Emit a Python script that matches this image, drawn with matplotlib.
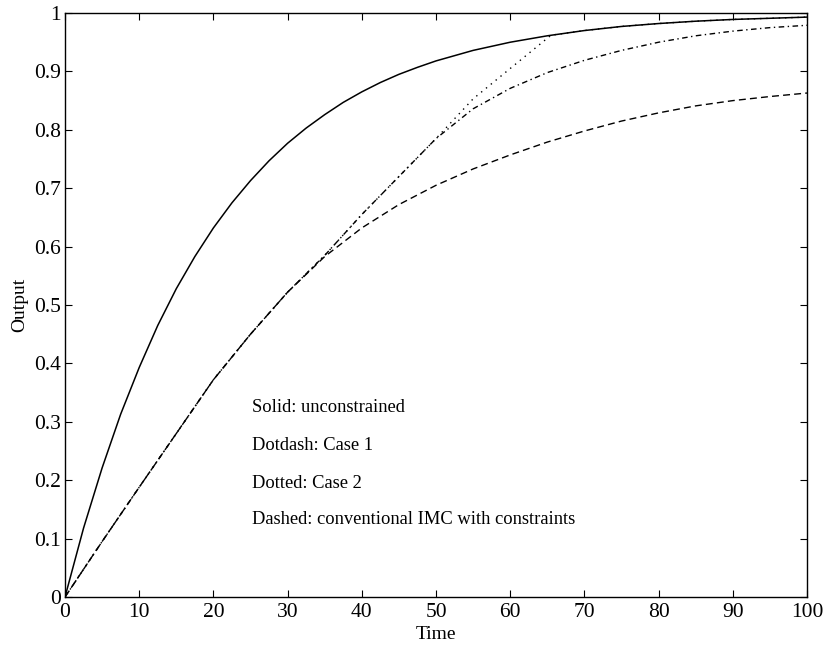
import matplotlib
matplotlib.use("Agg")
import matplotlib.pyplot as plt

plt.rcParams['font.family'] = ['Liberation Serif', 'DejaVu Serif']

# Time grid (every 5 units)
time = [0, 5, 10, 15, 20, 25, 30, 35, 40, 45, 50, 55, 60, 65, 70, 75, 80, 85, 90, 95, 100]

# Unconstrained response, sampled finer where it bends most
time_solid = [0, 2.5, 5, 7.5, 10, 12.5, 15, 17.5, 20, 22.5, 25, 27.5, 30, 32.5, 35,
              37.5, 40, 42.5, 45, 47.5, 50, 55, 60, 65, 70, 75, 80, 85, 90, 95, 100]
solid = [0, 0.118, 0.221, 0.313, 0.393, 0.465, 0.528, 0.583, 0.632, 0.675, 0.713,
         0.747, 0.777, 0.803, 0.826, 0.847, 0.865, 0.881, 0.895, 0.907, 0.918,
         0.936, 0.950, 0.961, 0.970, 0.977, 0.982, 0.986, 0.989, 0.991, 0.993]

# Conventional IMC with constraints
dashed = [0, 0.095, 0.188, 0.280, 0.372, 0.450, 0.522, 0.583, 0.632, 0.672, 0.705,
          0.733, 0.757, 0.779, 0.798, 0.815, 0.829, 0.841, 0.850, 0.857, 0.863]

# Case 1
dotdash = [0, 0.095, 0.188, 0.280, 0.372, 0.450, 0.522, 0.585, 0.655, 0.720, 0.785,
           0.836, 0.871, 0.898, 0.919, 0.936, 0.950, 0.961, 0.969, 0.975, 0.979]

# Case 2
time_case2 = [0, 5, 10, 15, 20, 25, 30, 35, 40, 45, 50, 55, 60, 65.5, 70, 75, 80, 85, 90, 95, 100]
dotted = [0, 0.095, 0.188, 0.280, 0.372, 0.450, 0.522, 0.585, 0.655, 0.720, 0.785,
          0.853, 0.905, 0.962, 0.970, 0.977, 0.982, 0.986, 0.989, 0.991, 0.993]

notes = ["Solid: unconstrained", "Dotdash: Case 1", "Dotted: Case 2",
         "Dashed: conventional IMC with constraints"]
note_y = [0.324, 0.26, 0.195, 0.132]

fig = plt.figure(figsize=(8.26, 6.48), dpi=100)
ax = fig.add_axes([0.0787, 0.0787, 0.8983, 0.9012])

ax.plot(time_solid, solid, color='black', lw=1.1)
ax.plot(time, dashed, color='black', lw=1.0, dashes=(5, 3))
ax.plot(time, dotdash, color='black', lw=1.0, dashes=(4, 2.5, 1, 2.5))
ax.plot(time_case2, dotted, color='black', lw=1.0, dashes=(1, 3.5))

for txt, y in zip(notes, note_y):
    ax.text(25.2, y, txt, fontsize=13.3, va='center', ha='left')

ax.set_xlim(0, 100)
ax.set_ylim(0, 1)
ax.set_xticks(range(0, 101, 10))
ax.set_yticks([i / 10 for i in range(11)])
ax.set_yticklabels(['0', '0.1', '0.2', '0.3', '0.4', '0.5', '0.6', '0.7', '0.8', '0.9', '1'])
ax.tick_params(direction='in', length=5, width=0.8, labelsize=15.5,
               top=True, right=True, pad=3)
ax.tick_params(axis='x', pad=4)
for s in ax.spines.values():
    s.set_linewidth(1.0)

ax.set_xlabel('Time', fontsize=14, labelpad=3)
ax.set_ylabel('Output', fontsize=14, labelpad=4)

fig.savefig('out.png', dpi=100)
